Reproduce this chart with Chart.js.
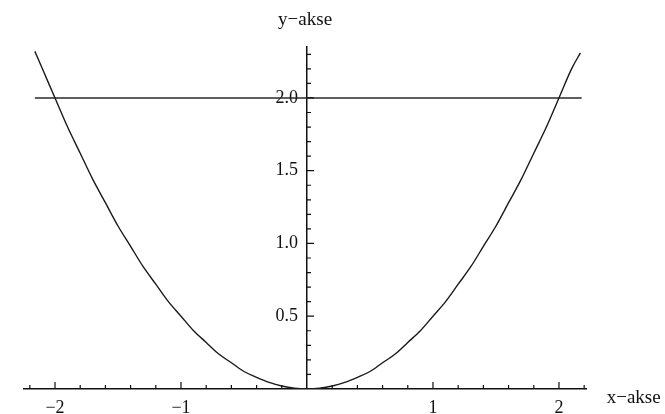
<!DOCTYPE html>
<html>
<head>
<meta charset="utf-8">
<script src="https://cdn.jsdelivr.net/npm/chart.js@4.4.1/dist/chart.umd.min.js"></script>
<style>
  html, body { margin: 0; padding: 0; background: #fff; }
  #wrap { width: 665px; height: 414px; position: relative; }
</style>
</head>
<body>
<div id="wrap"><canvas id="chart"></canvas></div>
<script>
// values
const curveX = [-2.16, -2.1, -2.0, -1.9, -1.8, -1.7, -1.6, -1.5, -1.4, -1.3, -1.2, -1.1,
  -1.0, -0.9, -0.8, -0.7, -0.6, -0.5, -0.4, -0.3, -0.2, -0.1, 0,
  0.1, 0.2, 0.3, 0.4, 0.5, 0.6, 0.7, 0.8, 0.9, 1.0, 1.1, 1.2, 1.3, 1.4, 1.5,
  1.6, 1.7, 1.8, 1.9, 2.0, 2.1, 2.17];
const curveY = [2.32, 2.2, 2.0, 1.8, 1.62, 1.44, 1.28, 1.12, 0.98, 0.84, 0.72, 0.6,
  0.5, 0.4, 0.32, 0.24, 0.18, 0.12, 0.08, 0.045, 0.02, 0.005, 0,
  0.005, 0.02, 0.045, 0.08, 0.12, 0.18, 0.24, 0.32, 0.4, 0.5, 0.6, 0.72, 0.84, 0.98, 1.12,
  1.28, 1.44, 1.62, 1.8, 2.0, 2.2, 2.31];
const levelX = [-2.16, 2.18];
const levelY = [2.0, 2.0];

const xTicks = [-2, -1, 1, 2];
const yTicks = [0.5, 1.0, 1.5, 2.0];
const xMinor = [-2.2, -2.0, -1.8, -1.6, -1.4, -1.2, -1.0, -0.8, -0.6, -0.4, -0.2,
  0.2, 0.4, 0.6, 0.8, 1.0, 1.2, 1.4, 1.6, 1.8, 2.0, 2.2];
const yMinor = [0.1, 0.2, 0.3, 0.4, 0.5, 0.6, 0.7, 0.8, 0.9, 1.0, 1.1, 1.2,
  1.3, 1.4, 1.5, 1.6, 1.7, 1.8, 1.9, 2.0, 2.1, 2.2, 2.3];

const INK = '#111';
const FONT = "'Liberation Serif', 'Times New Roman', serif";

const pts = (xs, ys) => xs.map((x, i) => ({ x, y: ys[i] }));
const isMajor = v => Math.abs(v * 2 - Math.round(v * 2)) < 1e-6;

// small inward tick marks along both axes
const axisTicks = {
  id: 'axisTicks',
  afterDraw(chart) {
    const { ctx, chartArea, scales: { x, y } } = chart;
    const x0 = x.getPixelForValue(0);
    ctx.save();
    ctx.strokeStyle = INK;
    ctx.lineWidth = 1.2;
    ctx.beginPath();
    xMinor.forEach(v => {
      const px = x.getPixelForValue(v);
      const len = Number.isInteger(v) ? 7 : 4;
      ctx.moveTo(px, chartArea.bottom);
      ctx.lineTo(px, chartArea.bottom - len);
    });
    yMinor.forEach(v => {
      const py = y.getPixelForValue(v);
      const len = isMajor(v) ? 7 : 4;
      ctx.moveTo(x0, py);
      ctx.lineTo(x0 + len, py);
    });
    ctx.stroke();
    ctx.fillStyle = INK;
    ctx.font = '19px ' + FONT;
    ctx.textBaseline = 'alphabetic';
    ctx.fillText('x\u2212akse', chartArea.right + 20, chartArea.bottom + 14);
    ctx.restore();
  }
};

new Chart(document.getElementById('chart'), {
  type: 'line',
  data: {
    datasets: [
      {
        data: pts(curveX, curveY),
        borderColor: '#1a1a1a',
        borderWidth: 1.4,
        pointRadius: 0,
        cubicInterpolationMode: 'monotone'
      },
      {
        data: pts(levelX, levelY),
        borderColor: '#2a2a2a',
        borderWidth: 1.6,
        pointRadius: 0
      }
    ]
  },
  options: {
    responsive: true,
    maintainAspectRatio: false,
    animation: false,
    layout: { padding: { left: 23.5, right: 78.3, top: 0, bottom: -13 } },
    plugins: {
      legend: { display: false },
      tooltip: { enabled: false },
      title: {
        display: true,
        text: 'y\u2212akse',
        fullSize: false,
        color: INK,
        font: { family: FONT, size: 19, weight: 'normal', lineHeight: 1.2 },
        padding: { top: 8.6, bottom: 15.6 }
      }
    },
    scales: {
      x: {
        type: 'linear',
        min: -2.25,
        max: 2.22,
        position: 'bottom',
        afterBuildTicks: s => { s.ticks = xTicks.map(value => ({ value })); },
        grid: { display: false, drawTicks: false },
        border: { display: true, color: INK, width: 1.5 },
        ticks: {
          color: INK,
          padding: 12,
          autoSkip: false,
          maxRotation: 0,
          font: { family: FONT, size: 18, lineHeight: 0.78 },
          callback: v => (v < 0 ? '\u2212' + Math.abs(v) : String(v))
        }
      },
      y: {
        type: 'linear',
        min: 0,
        max: 2.35,
        position: { x: 0 },
        afterBuildTicks: s => { s.ticks = yTicks.map(value => ({ value })); },
        grid: { display: false, drawTicks: false },
        border: { display: true, color: INK, width: 1.5 },
        ticks: {
          color: INK,
          padding: 8,
          font: { family: FONT, size: 18 },
          // trailing spaces keep the label clear of the axis line
          callback: v => v.toFixed(1) + '  '
        }
      }
    }
  },
  plugins: [axisTicks]
});
</script>
</body>
</html>
